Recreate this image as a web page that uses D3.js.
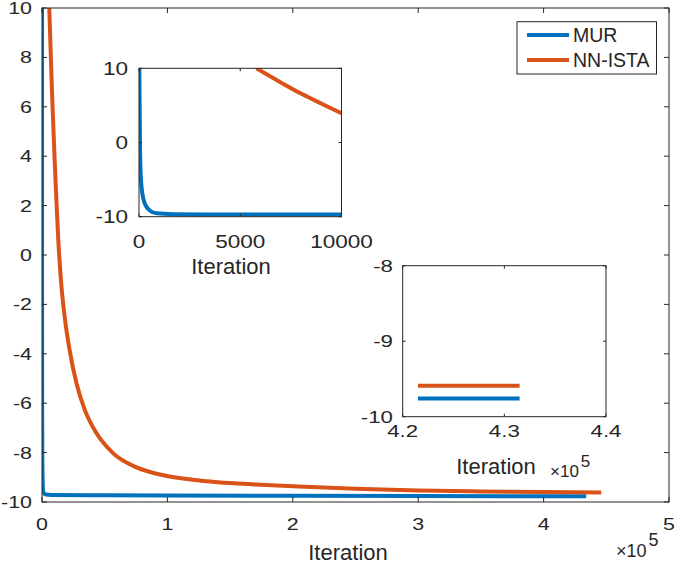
<!DOCTYPE html>
<html>
<head>
<meta charset="utf-8">
<script src="https://cdn.jsdelivr.net/npm/d3@7"></script>
<style>
  html, body { margin: 0; padding: 0; background: #fff; }
  svg { display: block; font-family: "Liberation Sans", Arial, Helvetica, sans-serif; }
</style>
</head>
<body>
<svg id="chart" width="675" height="564"></svg>
<script>
// ---------------- data ----------------
const seriesNames = ["MUR", "NN-ISTA"];
const seriesColors = ["#0072BD", "#D95319"];

// MUR objective vs iteration
const murIter  = [16, 33, 49, 82, 164, 296, 543, 872, 1694, 3339, 6000, 10000, 50000, 100000, 200000, 300000, 434000];
const murValue = [10, 4.83, -0.11, -4.16, -6.85, -8.29, -9.19, -9.55, -9.66, -9.70, -9.71, -9.72, -9.73, -9.74, -9.75, -9.76, -9.77];

// NN-ISTA objective vs iteration
const istaIter  = [5800, 7000, 8000, 9000, 10000, 11500, 13000, 15500, 18200, 22200, 27500, 34200, 43500, 56800, 75500, 96800, 120000, 140000, 170000, 200000, 250000, 300000, 350000, 400000, 446000];
const istaValue = [10, 8.1, 6.6, 5.25, 3.95, 2.2, 0.6, -1.25, -2.55, -3.9, -5.19, -6.28, -7.22, -8.03, -8.6, -8.92, -9.1, -9.2, -9.29, -9.36, -9.46, -9.53, -9.57, -9.60, -9.62];

// zoomed tail (inset 2)
const tailIter = [421500, 431500];
const tailMUR  = [-9.76, -9.76];
const tailISTA = [-9.59, -9.59];

// tick values
const mainXTicks = [0, 1e5, 2e5, 3e5, 4e5, 5e5];
const mainXTickLabels = ["0", "1", "2", "3", "4", "5"];
const mainYTicks = [-10, -8, -6, -4, -2, 0, 2, 4, 6, 8, 10];
const in1XTicks = [0, 5000, 10000];
const in1YTicks = [-10, 0, 10];
const in2XTicks = [420000, 430000, 440000];
const in2XTickLabels = ["4.2", "4.3", "4.4"];
const in2YTicks = [-10, -9, -8];

const xLabel = "Iteration";

// ---------------- drawing ----------------
const svg = d3.select("#chart");
const axisColor = "#262626";
const zip = (xs, ys) => xs.map((x, i) => [x, ys[i]]);

function panel(opts) {
  const {id, x0, x1, y0, y1, xDomain, yDomain, xTicks, xTickLabels, yTicks,
         tickFont, tickScale, tickLen, series, lineWidth, label, labelCx, labelBase, labelFont,
         xTickBase, yTickRight, exponent} = opts;
  const g = svg.append("g");
  const x = d3.scaleLinear().domain(xDomain).range([x0, x1]);
  const y = d3.scaleLinear().domain(yDomain).range([y1, y0]);

  g.append("rect").attr("x", x0).attr("y", y0).attr("width", x1 - x0).attr("height", y1 - y0)
    .attr("fill", "#fff");

  g.append("clipPath").attr("id", id).append("rect")
    .attr("x", x0).attr("y", y0).attr("width", x1 - x0).attr("height", y1 - y0);

  const line = d3.line().x(d => x(d[0])).y(d => y(d[1])).curve(d3.curveMonotoneX);
  const lg = g.append("g").attr("clip-path", `url(#${id})`);
  series.forEach(s => {
    lg.append("path").datum(s.data).attr("d", line)
      .attr("fill", "none").attr("stroke", s.color).attr("stroke-width", lineWidth)
      .attr("stroke-linejoin", "round");
  });

  // box
  g.append("rect").attr("x", x0).attr("y", y0).attr("width", x1 - x0).attr("height", y1 - y0)
    .attr("fill", "none").attr("stroke", axisColor).attr("stroke-width", 1);

  // ticks (inside, both sides)
  xTicks.forEach((t, i) => {
    const px = x(t);
    g.append("line").attr("x1", px).attr("x2", px).attr("y1", y1).attr("y2", y1 - tickLen)
      .attr("stroke", axisColor);
    g.append("line").attr("x1", px).attr("x2", px).attr("y1", y0).attr("y2", y0 + tickLen)
      .attr("stroke", axisColor);
    g.append("text").attr("transform", `translate(${px},${xTickBase}) scale(${tickScale},1)`)
      .attr("text-anchor", "middle")
      .attr("font-size", tickFont).attr("fill", axisColor)
      .text(xTickLabels ? xTickLabels[i] : d3.format("d")(t));
  });
  yTicks.forEach(t => {
    const py = y(t);
    g.append("line").attr("x1", x0).attr("x2", x0 + tickLen).attr("y1", py).attr("y2", py)
      .attr("stroke", axisColor);
    g.append("line").attr("x1", x1).attr("x2", x1 - tickLen).attr("y1", py).attr("y2", py)
      .attr("stroke", axisColor);
    g.append("text").attr("transform", `translate(${yTickRight},${py}) scale(${tickScale},1)`)
      .attr("dy", "0.36em")
      .attr("text-anchor", "end").attr("font-size", tickFont).attr("fill", axisColor)
      .text(t);
  });

  g.append("text").attr("x", labelCx).attr("y", labelBase).attr("text-anchor", "middle")
    .attr("font-size", labelFont).attr("fill", axisColor).text(label);

  if (exponent) {
    const e = g.append("text").attr("x", exponent.x).attr("y", exponent.y)
      .attr("font-size", exponent.size).attr("fill", axisColor);
    e.append("tspan").text("\u00D710");
    e.append("tspan").attr("dy", -exponent.size * 0.6).attr("dx", 2)
      .attr("font-size", exponent.size).text("5");
  }
  return {x, y};
}

// main axes
panel({
  id: "clipMain", x0: 42, x1: 669, y0: 8, y1: 502,
  xDomain: [0, 5e5], yDomain: [-10, 10],
  xTicks: mainXTicks, xTickLabels: mainXTickLabels, yTicks: mainYTicks,
  tickFont: 16.5, tickScale: 1.3, tickLen: 5,
  series: [
    {data: zip(murIter, murValue), color: seriesColors[0]},
    {data: zip(istaIter, istaValue), color: seriesColors[1]}
  ],
  lineWidth: 4,
  label: xLabel, labelCx: 348, labelBase: 560, labelFont: 22,
  xTickBase: 530, yTickRight: 32,
  exponent: {x: 616, y: 557, size: 18}
});

// inset 1
panel({
  id: "clipIn1", x0: 139, x1: 341.5, y0: 68.3, y1: 216.7,
  xDomain: [0, 10000], yDomain: [-10, 10],
  xTicks: in1XTicks, yTicks: in1YTicks,
  tickFont: 18.5, tickScale: 1.22, tickLen: 3,
  series: [
    {data: zip(murIter, murValue), color: seriesColors[0]},
    {data: zip(istaIter, istaValue), color: seriesColors[1]}
  ],
  lineWidth: 4,
  label: xLabel, labelCx: 231, labelBase: 274, labelFont: 22,
  xTickBase: 248, yTickRight: 128
});

// inset 2
panel({
  id: "clipIn2", x0: 402.7, x1: 606, y0: 265.7, y1: 416.7,
  xDomain: [420000, 440000], yDomain: [-10, -8],
  xTicks: in2XTicks, xTickLabels: in2XTickLabels, yTicks: in2YTicks,
  tickFont: 16.5, tickScale: 1.35, tickLen: 3,
  series: [
    {data: zip(tailIter, tailMUR), color: seriesColors[0]},
    {data: zip(tailIter, tailISTA), color: seriesColors[1]}
  ],
  lineWidth: 4,
  label: xLabel, labelCx: 496, labelBase: 474, labelFont: 22,
  xTickBase: 437, yTickRight: 393,
  exponent: {x: 550, y: 477, size: 17}
});

// legend
const leg = svg.append("g");
leg.append("rect").attr("x", 517).attr("y", 21.7).attr("width", 139.5).attr("height", 52.3)
  .attr("fill", "#fff").attr("stroke", axisColor).attr("stroke-width", 1);
seriesNames.forEach((name, i) => {
  const cy = 35 + i * 25;
  leg.append("line").attr("x1", 527).attr("x2", 569).attr("y1", cy).attr("y2", cy)
    .attr("stroke", seriesColors[i]).attr("stroke-width", 4);
  leg.append("text").attr("x", 573).attr("y", cy).attr("dy", "0.36em")
    .attr("font-size", 19.5).attr("fill", axisColor).text(name);
});
</script>
</body>
</html>
